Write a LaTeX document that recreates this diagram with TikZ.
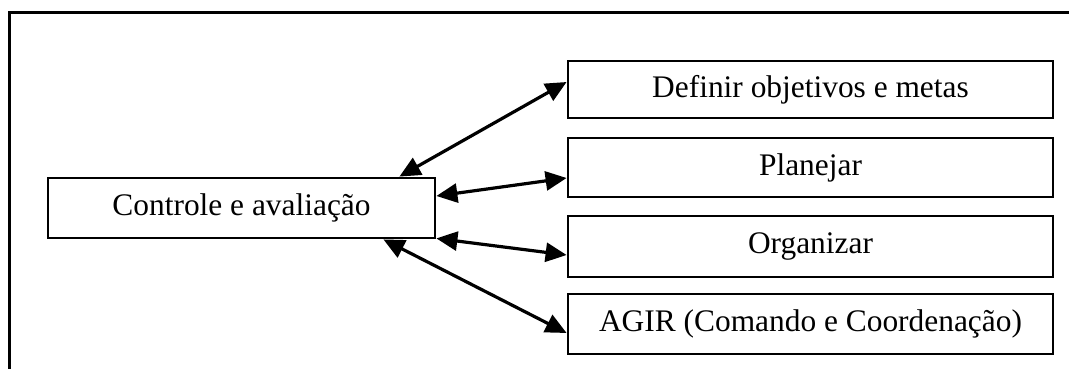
\documentclass[tikz,border=0pt]{standalone}
\usepackage{fontspec}
\setmainfont{Liberation Serif}
\usetikzlibrary{arrows.meta,calc}
\begin{document}
\begin{tikzpicture}[x=0.5pt,y=-0.5pt,
  box/.style={draw,line width=1.4pt,rectangle,inner sep=0pt,
    font=\fontsize{15.7}{18}\selectfont},
  rbox/.style={box,minimum width=242.5pt},
  link/.style={line width=1.6pt,
    {Triangle[length=10.5pt,width=9.5pt]}-{Triangle[length=10.5pt,width=9.5pt]}},
  frameline/.style={line width=1.5pt}]
\useasboundingbox (0,0) rectangle (1069,369);
% frame
\coordinate (ftr) at (1069,13);
\coordinate (ftl) at (9,13);
\coordinate (fbl) at (9,369);
\draw[frameline] (ftr) -- (ftl) -- (fbl);
% boxes
\node[box,minimum width=193.5pt,minimum height=30pt] (ctrl) at (241.5,208) {Controle e avaliação};
\node[rbox,minimum height=28.5pt] (def) at (810.5,89.5) {Definir objetivos e metas};
\node[rbox,minimum height=29.5pt] (plan) at (810.5,167.5) {Planejar};
\node[rbox,minimum height=30.5pt] (org) at (810.5,246.5) {Organizar};
\node[rbox,minimum height=30pt] (agir) at (810.5,324) {AGIR (Comando e Coordenação)};
% connectors
\draw[link] ($(ctrl.north east)+(-37,0)$) -- ($(def.west)+(0,-7.5)$);
\draw[link] ($(ctrl.east)+(0,-12)$) -- ($(plan.west)+(0,10.5)$);
\draw[link] ($(ctrl.south east)+(0,-1)$) -- ($(org.west)+(0,8.5)$);
\draw[link] ($(ctrl.south east)+(-53,0)$) -- ($(agir.west)+(0,9)$);
\end{tikzpicture}
\end{document}
